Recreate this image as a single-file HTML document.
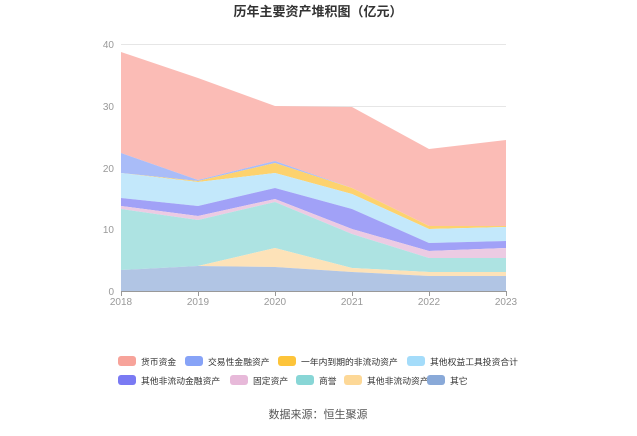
<!DOCTYPE html><html><head><meta charset="utf-8"><style>
body{margin:0;background:#fff;font-family:"Liberation Sans","Noto Sans CJK SC",sans-serif}
</style></head><body>
<svg width="637" height="431" xmlns="http://www.w3.org/2000/svg" font-family="Liberation Sans, Noto Sans CJK SC, sans-serif">
<text x="318" y="16" text-anchor="middle" font-size="13" font-weight="bold" fill="#333">历年主要资产堆积图（亿元）</text>
<g stroke="#e6e6e6" stroke-width="1">
<line x1="121" x2="506" y1="44.5" y2="44.5"/><line x1="121" x2="506" y1="106.5" y2="106.5"/><line x1="121" x2="506" y1="168.5" y2="168.5"/><line x1="121" x2="506" y1="229.5" y2="229.5"/>
</g>
<g fill-opacity="1">
<polygon fill="#fbbcb6" points="121,52 198,78 275,106 352,107 429,149 506,140 506,226 429,226 352,188 275,161 198,180 121,153"/>
<polygon fill="#a9bcf8" points="121,153 198,180 275,161 352,188 429,226 506,226 506,226 429,226 352,188 275,163 198,181 121,173"/>
<polygon fill="#fdd26e" points="121,173 198,181 275,163 352,188 429,226 506,226 506,227 429,229 352,194 275,173 198,182 121,173"/>
<polygon fill="#c3e8fb" points="121,173 198,182 275,173 352,194 429,229 506,227 506,241 429,243 352,209 275,188 198,206 121,198"/>
<polygon fill="#a1a1f7" points="121,198 198,206 275,188 352,209 429,243 506,241 506,248 429,251 352,229 275,199 198,216 121,206"/>
<polygon fill="#eccbe3" points="121,206 198,216 275,199 352,229 429,251 506,248 506,258 429,258 352,234 275,202 198,220 121,209"/>
<polygon fill="#ade3e2" points="121,209 198,220 275,202 352,234 429,258 506,258 506,272 429,272 352,268 275,248 198,266 121,270"/>
<polygon fill="#fde2b8" points="121,270 198,266 275,248 352,268 429,272 506,272 506,276 429,276 352,272 275,267 198,266 121,270"/>
<polygon fill="#b1c5e4" points="121,270 198,266 275,267 352,272 429,276 506,276 506,291 121,291"/>
</g>
<line x1="121" x2="506" y1="291.5" y2="291.5" stroke="#999"/>
<g stroke="#999"><line x1="121.5" x2="121.5" y1="291" y2="296"/><line x1="198.5" x2="198.5" y1="291" y2="296"/><line x1="275.5" x2="275.5" y1="291" y2="296"/><line x1="352.5" x2="352.5" y1="291" y2="296"/><line x1="429.5" x2="429.5" y1="291" y2="296"/><line x1="506.5" x2="506.5" y1="291" y2="296"/></g>
<g font-size="10" fill="#999" text-anchor="end">
<text x="114" y="48">40</text><text x="114" y="110">30</text><text x="114" y="172">20</text><text x="114" y="233">10</text><text x="114" y="295">0</text>
</g>
<g font-size="10" fill="#999" text-anchor="middle">
<text x="121" y="305">2018</text><text x="198" y="305">2019</text><text x="275" y="305">2020</text><text x="352" y="305">2021</text><text x="429" y="305">2022</text><text x="506" y="305">2023</text>
</g>
<g font-size="8.8" fill="#333">
<rect x="118" y="356" width="18" height="10" rx="3" fill="#f7a39a"/><text x="141" y="365">货币资金</text>
<rect x="185" y="356" width="18" height="10" rx="3" fill="#87a3f7"/><text x="208" y="365">交易性金融资产</text>
<rect x="278" y="356" width="18" height="10" rx="3" fill="#fdc43a"/><text x="301" y="365">一年内到期的非流动资产</text>
<rect x="407" y="356" width="18" height="10" rx="3" fill="#a4dcfa"/><text x="430" y="365">其他权益工具投资合计</text>
<rect x="118" y="375" width="18" height="10" rx="3" fill="#7a7af3"/><text x="141" y="384">其他非流动金融资产</text>
<rect x="230" y="375" width="18" height="10" rx="3" fill="#e7b9d9"/><text x="253" y="384">固定资产</text>
<rect x="296" y="375" width="18" height="10" rx="3" fill="#88d6d6"/><text x="319" y="384">商誉</text>
<rect x="344" y="375" width="18" height="10" rx="3" fill="#fdd897"/><text x="367" y="384">其他非流动资产</text>
<rect x="427" y="375" width="18" height="10" rx="3" fill="#89a9d8"/><text x="450" y="384">其它</text>
</g>
<text x="318" y="418" text-anchor="middle" font-size="11" fill="#555">数据来源：恒生聚源</text>
</svg>
</body></html>
